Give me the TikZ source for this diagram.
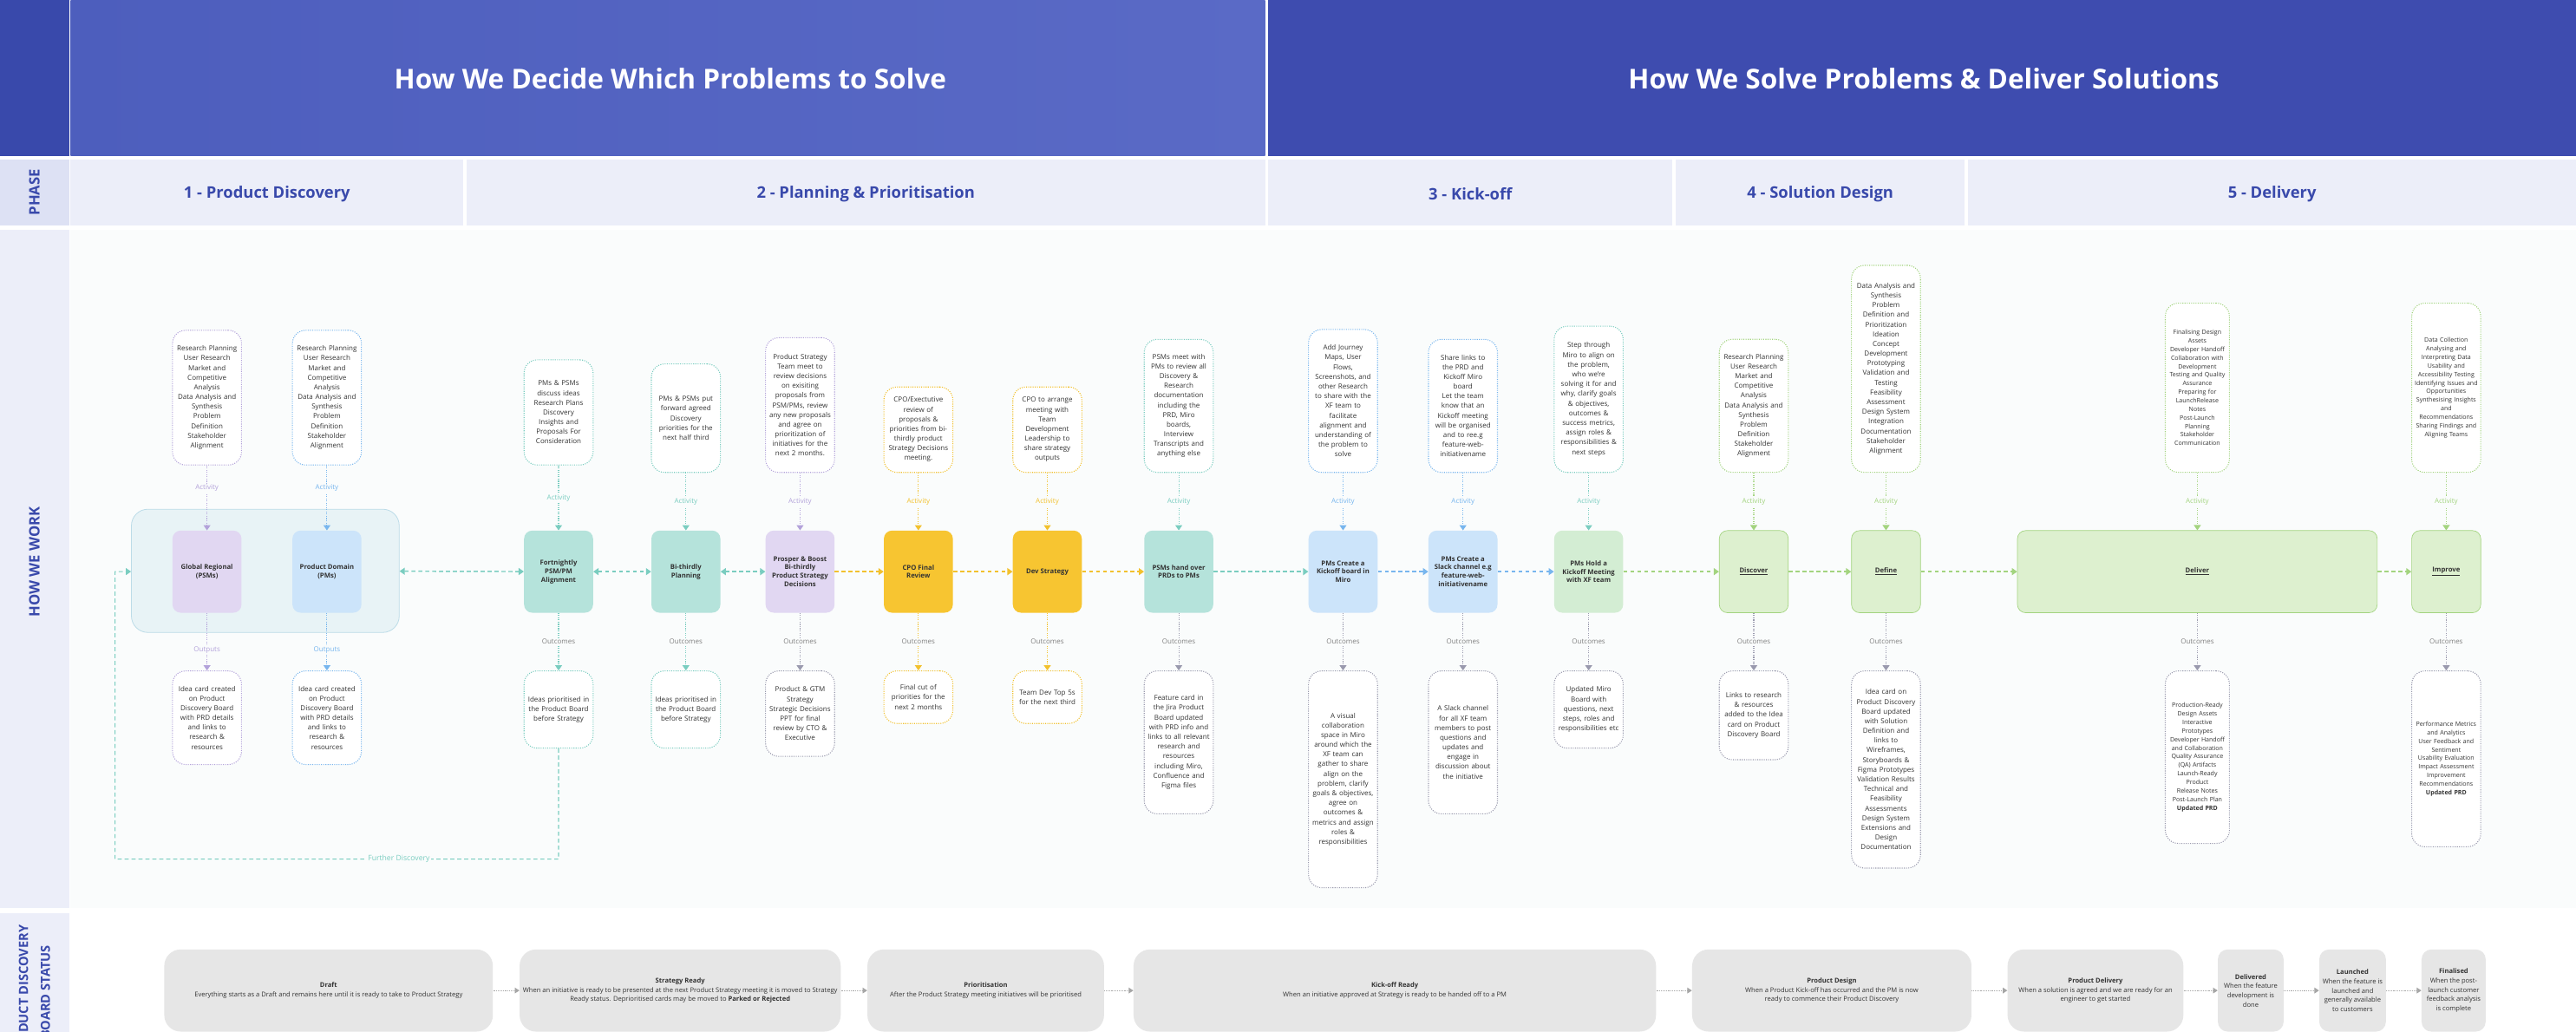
\documentclass[tikz,border=0pt]{standalone}
\usepackage{fontspec}
\setmainfont{Open Sans}
\usetikzlibrary{arrows.meta,positioning,calc}
\usepackage{xcolor}

\definecolor{indigo}{HTML}{3949AB}
\definecolor{hdrleft}{HTML}{4D5EBD}
\definecolor{hdrleftb}{HTML}{5A6AC6}
\definecolor{hdrright}{HTML}{3E4CAF}
\definecolor{phasebg}{HTML}{ECEEF9}
\definecolor{phasecell}{HTML}{DDE1F4}
\definecolor{workbg}{HTML}{FAFCFC}
\definecolor{ink}{HTML}{333333}
\definecolor{lavender}{HTML}{E1D7F2}
\definecolor{lavenderline}{HTML}{B3A2DA}
\definecolor{skyfill}{HTML}{CCE4FA}
\definecolor{skyline}{HTML}{78B6EE}
\definecolor{tealfill}{HTML}{B5E3DB}
\definecolor{tealline}{HTML}{7ACDC0}
\definecolor{amber}{HTML}{F7C531}
\definecolor{amberline}{HTML}{F2C12E}
\definecolor{leaf}{HTML}{DDF0CF}
\definecolor{leafline}{HTML}{A3D47F}
\definecolor{mint}{HTML}{D3EDD3}
\definecolor{pool}{HTML}{E8F3F6}
\definecolor{poolline}{HTML}{BCDCE8}
\definecolor{greyline}{HTML}{9A9AAE}
\definecolor{statusgrey}{HTML}{E6E6E6}

\tikzset{
  stage/.style={fill=#1,rounded corners=2.5mm,minimum width=21mm,minimum height=25mm,
    align=center,inner sep=0.5mm,text=ink,font=\bfseries\fontsize{5.8}{7.4}\selectfont},
  actbox/.style={draw=#1,fill=white,rounded corners=4mm,line width=0.8pt,
    dash pattern=on 0.8pt off 1.1pt,align=center,minimum width=21mm,text width=20.5mm,
    inner xsep=0.25mm,text=ink,font=\fontsize{6}{8.4}\selectfont},
  tinybox/.style={actbox=#1,font=\fontsize{5.3}{7.4}\selectfont},
  link/.style={draw=#1,line width=0.8pt,dash pattern=on 0.8pt off 1.1pt,
    -{Triangle[width=6pt,length=4.5pt]}},
  tag/.style={fill=workbg,inner sep=1pt,text=#1,font=\fontsize{6}{7}\selectfont},
  flow/.style={draw=#1,line width=1.1pt,dash pattern=on 3.5pt off 2.5pt,
    -{Triangle[width=6pt,length=4.5pt]}},
  flowboth/.style={flow=#1,{Triangle[width=6pt,length=4.5pt]}-{Triangle[width=6pt,length=4.5pt]}},
  status/.style={fill=statusgrey,rounded corners=5mm,minimum height=25mm,align=center,
    inner sep=1mm,text=ink,font=\fontsize{5.7}{8}\selectfont},
  statuslink/.style={draw=gray!70,line width=0.7pt,dash pattern=on 0.6pt off 0.8pt,
    -{Triangle[width=5pt,length=4pt]},gray!70},
  phasename/.style={text=indigo,font=\bfseries\fontsize{13.8}{16}\selectfont},
}

\begin{document}
\begin{tikzpicture}[x=0.5mm,y=-0.5mm,node distance=17.5mm]
\useasboundingbox (0,0) rectangle (1568,628);
\clip (0,0) rectangle (1568,628);

% grid
\fill[white] (0,0) rectangle (1568,628);
\fill[indigo] (0,0) rectangle (42,95);
\fill[phasecell] (0,97) rectangle (42,137);
\fill[phasebg] (0,140) rectangle (42,553);
\fill[phasebg] (0,556) rectangle (42,628);
\shade[left color=hdrleft,right color=hdrleftb] (43,0) rectangle (770,95);
\fill[hdrright] (772,0) rectangle (1568,95);
\fill[phasebg] (43,97) rectangle (282,137);
\fill[phasebg] (284,97) rectangle (770,137);
\fill[phasebg] (772,97) rectangle (1018,137);
\fill[phasebg] (1020,97) rectangle (1196,137);
\fill[phasebg] (1198,97) rectangle (1568,137);
\fill[workbg] (43,140) rectangle (1568,553);

\node[text=white,font=\bfseries\fontsize{23.7}{28}\selectfont] (hdrdecide) at (408,48) {How We Decide Which Problems to Solve};
\node[text=white,font=\bfseries\fontsize{23.7}{28}\selectfont] (hdrsolve) at (1171,48) {How We Solve Problems \& Deliver Solutions};

\node[phasename] (ph1) at (162.5,118) {1 - Product Discovery};
\node[phasename] (ph2) at (527,118) {2 - Planning \& Prioritisation};
\node[phasename] (ph3) at (895,118) {3 - Kick-off};
\node[phasename] (ph4) at (1108,118) {4 - Solution Design};
\node[phasename] (ph5) at (1383,118) {5 - Delivery};

\node[rotate=90,text=indigo,font=\bfseries\fontsize{12.5}{15}\selectfont] (lblphase) at (21,117) {PHASE};
\node[rotate=90,text=indigo,font=\bfseries\fontsize{12.5}{15}\selectfont] (lblwork) at (21,342) {HOW WE WORK};
\node[rotate=90,text=indigo,align=center,font=\bfseries\fontsize{11}{19}\selectfont] (lblstatus) at (21,604) {PRODUCT DISCOVERY\\BOARD STATUS};

% how we work: stages
\node[draw=poolline,fill=pool,rounded corners=5mm,minimum width=81.5mm,minimum height=37.5mm,line width=0.6pt] (pool) at (161.5,347.5) {};
\node[stage=lavender] (glob) at (126,348) {Global Regional\\(PSMs)};
\node[stage=skyfill] (dom) at (199,348) {Product Domain\\(PMs)};
\node[stage=tealfill] (fort) at (340,348) {Fortnightly\\PSM/PM\\Alignment};
\node[stage=tealfill] (bithird) at (417.5,348) {Bi-thirdly\\Planning};
\node[stage=lavender] (prosper) at (487,348) {Prosper \& Boost\\Bi-thirdly\\Product Strategy\\Decisions};
\node[stage=amber] (cpo) at (559,348) {CPO Final\\Review};
\node[stage=amber] (devstrat) at (637.5,348) {Dev Strategy};
\node[stage=tealfill] (handover) at (717.5,348) {PSMs hand over\\PRDs to PMs};
\node[stage=skyfill] (miroboard) at (817.5,348) {PMs Create a\\Kickoff board in\\Miro};
\node[stage=skyfill] (slack) at (890.5,348) {PMs Create a\\Slack channel e.g\\feature-web-\\initiativename};
\node[stage=mint] (kickoff) at (967,348) {PMs Hold a\\Kickoff Meeting\\with XF team};
\node[stage=leaf,draw=leafline,line width=0.5pt] (discover) at (1067.5,348) {\underline{Discover}};
\node[stage=leaf,draw=leafline,line width=0.5pt] (define) at (1148,348) {\underline{Define}};
\node[stage=leaf,draw=leafline,line width=0.5pt,minimum width=109.5mm] (deliver) at (1337.5,348) {\underline{Deliver}};
\node[stage=leaf,draw=leafline,line width=0.5pt] (improve) at (1489,348) {\underline{Improve}};

% activities
\node[actbox=lavenderline,minimum height=41mm,above=19.75mm of glob] (actglob) {Research Planning\\User Research\\Market and\\Competitive\\Analysis\\Data Analysis and\\Synthesis\\Problem\\Definition\\Stakeholder\\Alignment};
\node[actbox=skyline,minimum height=41mm,above=19.75mm of dom] (actdom) {Research Planning\\User Research\\Market and\\Competitive\\Analysis\\Data Analysis and\\Synthesis\\Problem\\Definition\\Stakeholder\\Alignment};
\node[actbox=tealline,minimum height=32mm,above=19.75mm of fort] (actfort) {PMs \& PSMs\\discuss ideas\\Research Plans\\Discovery\\Insights and\\Proposals For\\Consideration};
\node[actbox=tealline,minimum height=33mm,above=of bithird] (actbithird) {PMs \& PSMs put\\forward agreed\\Discovery\\priorities for the\\next half third};
\node[actbox=lavenderline,minimum height=41mm,above=of prosper] (actprosper) {Product Strategy\\Team meet to\\review decisions\\on exisiting\\proposals from\\PSM/PMs, review\\any new proposals\\and agree on\\prioritization of\\initiatives for the\\next 2 months.};
\node[actbox=amberline,minimum height=26mm,above=of cpo] (actcpo) {CPO/Exectutive\\review of\\proposals \&\\priorities from bi-\\thirdly product\\Strategy Decisions\\meeting.};
\node[actbox=amberline,minimum height=26mm,above=of devstrat] (actdev) {CPO to arrange\\meeting with\\Team\\Development\\Leadership to\\share strategy\\outputs};
\node[actbox=tealline,minimum height=40.5mm,above=of handover] (acthand) {PSMs meet with\\PMs to review all\\Discovery \&\\Research\\documentation\\including the\\PRD, Miro\\boards,\\Interview\\Transcripts and\\anything else};
\node[actbox=skyline,minimum height=43.5mm,above=of miroboard] (actmiro) {Add Journey\\Maps, User\\Flows,\\Screenshots, and\\other Research\\to share with the\\XF team to\\facilitate\\alignment and\\understanding of\\the problem to\\solve};
\node[actbox=skyline,minimum height=40.5mm,above=of slack] (actslack) {Share links to\\the PRD and\\Kickoff Miro\\board\\Let the team\\know that an\\Kickoff meeting\\will be organised\\and to ree.g\\feature-web-\\initiativename};
\node[actbox=tealline,minimum height=44.5mm,above=of kickoff] (actkick) {Step through\\Miro to align on\\the problem,\\who we're\\solving it for and\\why, clarify goals\\\& objectives,\\outcomes \&\\success metrics,\\assign roles \&\\responsibilities \&\\next steps};
\node[actbox=leafline,minimum height=40.5mm,above=of discover] (actdisc) {Research Planning\\User Research\\Market and\\Competitive\\Analysis\\Data Analysis and\\Synthesis\\Problem\\Definition\\Stakeholder\\Alignment};
\node[actbox=leafline,minimum height=63mm,above=of define] (actdef) {Data Analysis and\\Synthesis\\Problem\\Definition and\\Prioritization\\Ideation\\Concept\\Development\\Prototyping\\Validation and\\Testing\\Feasibility\\Assessment\\Design System\\Integration\\Documentation\\Stakeholder\\Alignment};
\node[tinybox=leafline,minimum width=19.5mm,text width=19mm,minimum height=51.5mm,above=of deliver] (actdel) {Finalising Design\\Assets\\Developer Handoff\\Collaboration with\\Development\\Testing and Quality\\Assurance\\Preparing for\\LaunchRelease\\Notes\\Post-Launch\\Planning\\Stakeholder\\Communication};
\node[tinybox=leafline,minimum height=51.5mm,above=of improve] (actimp) {Data Collection\\Analysing and\\Interpreting Data\\Usability and\\Accessibility Testing\\Identifying Issues and\\Opportunities\\Synthesising Insights\\and\\Recommendations\\Sharing Findings and\\Aligning Teams};

% outcomes
\node[actbox=lavenderline,minimum height=28.5mm,below=of glob] (outglob) {Idea card created\\on Product\\Discovery Board\\with PRD details\\and links to\\research \&\\resources};
\node[actbox=skyline,minimum height=28.5mm,below=of dom] (outdom) {Idea card created\\on Product\\Discovery Board\\with PRD details\\and links to\\research \&\\resources};
\node[actbox=tealline,minimum height=23.5mm,below=of fort] (outfort) {Ideas prioritised in\\the Product Board\\before Strategy};
\node[actbox=tealline,minimum height=23.5mm,below=of bithird] (outbithird) {Ideas prioritised in\\the Product Board\\before Strategy};
\node[actbox=greyline,minimum height=26mm,below=of prosper] (outprosper) {Product \& GTM\\Strategy\\Strategic Decisions\\PPT for final\\review by CTO \&\\Executive};
\node[actbox=amberline,minimum height=16mm,below=of cpo] (outcpo) {Final cut of\\priorities for the\\next 2 months};
\node[actbox=amberline,minimum height=16mm,below=of devstrat] (outdev) {Team Dev Top 5s\\for the next third};
\node[actbox=greyline,minimum height=43.5mm,below=of handover] (outhand) {Feature card in\\the Jira Product\\Board updated\\with PRD info and\\links to all relevant\\research and\\resources\\including Miro,\\Confluence and\\Figma files};
\node[actbox=greyline,minimum height=66mm,below=of miroboard] (outmiro) {A visual\\collaboration\\space in Miro\\around which the\\XF team can\\gather to share\\align on the\\problem, clarify\\goals \& objectives,\\agree on\\outcomes \&\\metrics and assign\\roles \&\\responsibilities};
\node[actbox=greyline,minimum height=43.5mm,below=of slack] (outslack) {A Slack channel\\for all XF team\\members to post\\questions and\\updates and\\engage in\\discussion about\\the initiative};
\node[actbox=greyline,minimum height=23.5mm,below=of kickoff] (outkick) {Updated Miro\\Board with\\questions, next\\steps, roles and\\responsibilities etc};
\node[actbox=greyline,minimum height=27mm,below=of discover] (outdisc) {Links to research\\\& resources\\added to the Idea\\card on Product\\Discovery Board};
\node[actbox=greyline,minimum height=60mm,below=of define] (outdef) {Idea card on\\Product Discovery\\Board updated\\with Solution\\Definition and\\links to\\Wireframes,\\Storyboards \&\\Figma Prototypes\\Validation Results\\Technical and\\Feasibility\\Assessments\\Design System\\Extensions and\\Design\\Documentation};
\node[tinybox=greyline,minimum width=19.5mm,text width=19mm,minimum height=52.5mm,below=of deliver] (outdel) {Production-Ready\\Design Assets\\Interactive\\Prototypes\\Developer Handoff\\and Collaboration\\Quality Assurance\\(QA) Artifacts\\Launch-Ready\\Product\\Release Notes\\Post-Launch Plan\\\textbf{Updated PRD}};
\node[tinybox=greyline,minimum height=53.5mm,below=of improve] (outimp) {Performance Metrics\\and Analytics\\User Feedback and\\Sentiment\\Usability Evaluation\\Impact Assessment\\Improvement\\Recommendations\\\textbf{Updated PRD}};

% activity links
\draw[link=lavenderline] (actglob) -- node[tag=lavenderline,pos=0.35] {Activity} (glob);
\draw[link=skyline] (actdom) -- node[tag=skyline,pos=0.35] {Activity} (dom);
\draw[link=tealline] (actfort) -- node[tag=tealline] {Activity} (fort);
\draw[link=tealline] (actbithird) -- node[tag=tealline] {Activity} (bithird);
\draw[link=lavenderline] (actprosper) -- node[tag=lavenderline] {Activity} (prosper);
\draw[link=amberline] (actcpo) -- node[tag=amberline] {Activity} (cpo);
\draw[link=amberline] (actdev) -- node[tag=amberline] {Activity} (devstrat);
\draw[link=tealline] (acthand) -- node[tag=tealline] {Activity} (handover);
\draw[link=skyline] (actmiro) -- node[tag=skyline] {Activity} (miroboard);
\draw[link=skyline] (actslack) -- node[tag=skyline] {Activity} (slack);
\draw[link=tealline] (actkick) -- node[tag=tealline] {Activity} (kickoff);
\draw[link=leafline] (actdisc) -- node[tag=leafline] {Activity} (discover);
\draw[link=leafline] (actdef) -- node[tag=leafline] {Activity} (define);
\draw[link=leafline] (actdel) -- node[tag=leafline] {Activity} (deliver);
\draw[link=leafline] (actimp) -- node[tag=leafline] {Activity} (improve);

% outcome links
\draw[link=lavenderline] (glob) -- node[tag=lavenderline,pos=0.65] {Outputs} (outglob);
\draw[link=skyline] (dom) -- node[tag=skyline,pos=0.65] {Outputs} (outdom);
\draw[link=tealline] (fort) -- node[tag=gray] {Outcomes} (outfort);
\draw[link=tealline] (bithird) -- node[tag=gray] {Outcomes} (outbithird);
\draw[link=greyline] (prosper) -- node[tag=gray] {Outcomes} (outprosper);
\draw[link=amberline] (cpo) -- node[tag=gray] {Outcomes} (outcpo);
\draw[link=amberline] (devstrat) -- node[tag=gray] {Outcomes} (outdev);
\draw[link=greyline] (handover) -- node[tag=gray] {Outcomes} (outhand);
\draw[link=greyline] (miroboard) -- node[tag=gray] {Outcomes} (outmiro);
\draw[link=greyline] (slack) -- node[tag=gray] {Outcomes} (outslack);
\draw[link=greyline] (kickoff) -- node[tag=gray] {Outcomes} (outkick);
\draw[link=greyline] (discover) -- node[tag=gray] {Outcomes} (outdisc);
\draw[link=greyline] (define) -- node[tag=gray] {Outcomes} (outdef);
\draw[link=greyline] (deliver) -- node[tag=gray] {Outcomes} (outdel);
\draw[link=greyline] (improve) -- node[tag=gray] {Outcomes} (outimp);

% flow between stages
\draw[flowboth=tealline] (pool) -- (fort);
\draw[flowboth=tealline] (fort) -- (bithird);
\draw[flowboth=tealline] (bithird) -- (prosper);
\draw[flow=amberline] (prosper) -- (cpo);
\draw[flow=amberline] (cpo) -- (devstrat);
\draw[flow=amberline] (devstrat) -- (handover);
\draw[flow=tealline] (handover) -- (miroboard);
\draw[flow=skyline] (miroboard) -- (slack);
\draw[flow=skyline] (slack) -- (kickoff);
\draw[flow=leafline] (kickoff) -- (discover);
\draw[flow=leafline] (discover) -- (define);
\draw[flow=leafline] (define) -- (deliver);
\draw[flow=leafline] (deliver) -- (improve);

% further discovery loop
\coordinate (loopa) at (340,523);
\coordinate (loopb) at (70,523);
\coordinate (loopc) at (70,348);
\draw[flow=tealline,line width=0.8pt] (outfort) -- (loopa) -- node[tag=tealline,pos=0.36,font=\fontsize{6.5}{8}\selectfont] {Further Discovery} (loopb) -- (loopc) -- (pool);

% board status
\node[status,minimum width=100mm] (draft) at (200,603) {\textbf{Draft}\\Everything starts as a Draft and remains here until it is ready to take to Product Strategy};
\node[status,minimum width=96mm] (stratready) at (414,603) {\textbf{Strategy Ready}\\When an initiative is ready to be presented at the next Product Strategy meeting it is moved to Strategy\\Ready status. Deprioritised cards may be moved to \textbf{Parked or Rejected}};
\node[status,minimum width=72mm] (prio) at (600,603) {\textbf{Prioritisation}\\After the Product Strategy meeting initiatives will be prioritised};
\node[status,minimum width=159mm] (kickready) at (849,603) {\textbf{Kick-off Ready}\\When an initiative approved at Strategy is ready to be handed off to a PM};
\node[status,minimum width=85mm] (pdesign) at (1115,603) {\textbf{Product Design}\\When a Product Kick-off has occurred and the PM is now\\ready to commence their Product Discovery};
\node[status,minimum width=53.5mm] (pdelivery) at (1275.5,603) {\textbf{Product Delivery}\\When a solution is agreed and we are ready for an\\engineer to get started};
\node[status,minimum width=20mm,rounded corners=3mm] (delivered) at (1370,603) {\textbf{Delivered}\\When the feature\\development is\\done};
\node[status,minimum width=20mm,rounded corners=3mm] (launched) at (1432,603) {\textbf{Launched}\\When the feature is\\launched and\\generally available\\to customers};
\node[status,minimum width=19.5mm,rounded corners=3mm] (finalised) at (1493.5,603) {\textbf{Finalised}\\When the post-\\launch customer\\feedback analysis\\is complete};

\draw[statuslink] (draft) -- (stratready);
\draw[statuslink] (stratready) -- (prio);
\draw[statuslink] (prio) -- (kickready);
\draw[statuslink] (kickready) -- (pdesign);
\draw[statuslink] (pdesign) -- (pdelivery);
\draw[statuslink] (pdelivery) -- (delivered);
\draw[statuslink] (delivered) -- (launched);
\draw[statuslink] (launched) -- (finalised);
\end{tikzpicture}
\end{document}
